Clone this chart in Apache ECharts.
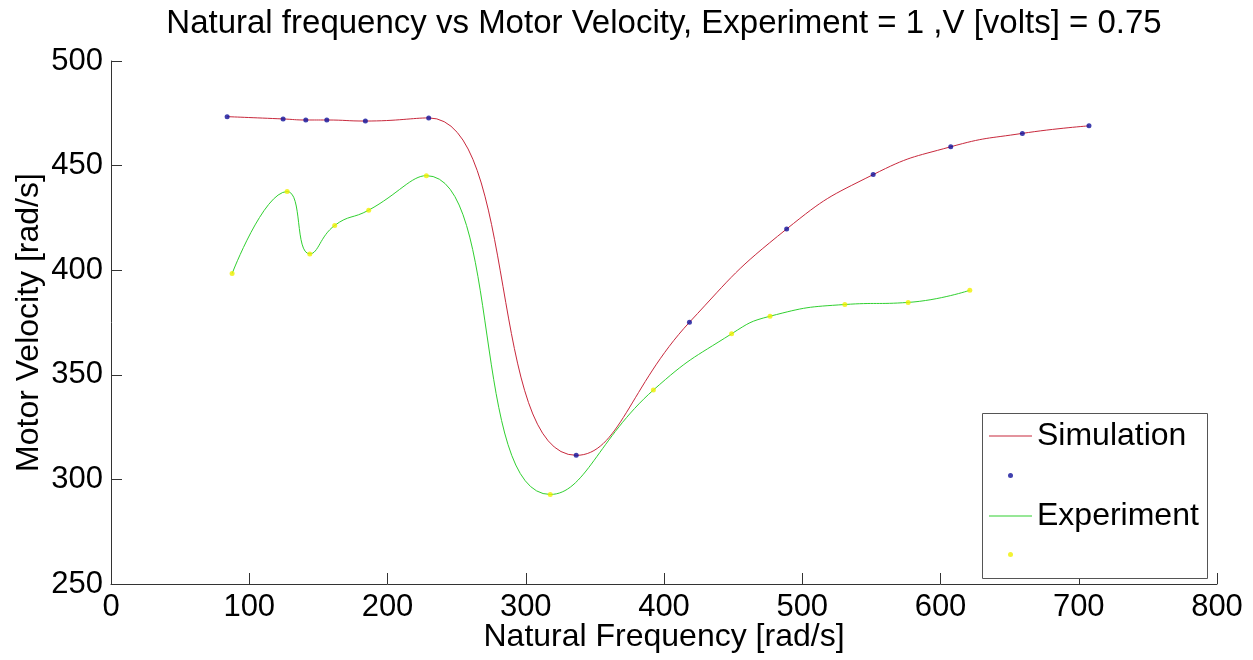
<!DOCTYPE html>
<html>
<head>
<meta charset="utf-8">
<script src="https://cdn.jsdelivr.net/npm/echarts@6/dist/echarts.min.js"></script>
<style>html,body{margin:0;padding:0;background:#fff}#c{width:1253px;height:660px}</style>
</head>
<body>
<div id="c"></div>
<script>
const titleText = 'Natural frequency vs Motor Velocity, Experiment = 1 ,V [volts] = 0.75';
const xName = 'Natural Frequency [rad/s]';
const yName = 'Motor Velocity [rad/s]';

const simFreq = [84.0, 124.5, 140.9, 156.1, 184.0, 229.8, 336.5, 418.4, 488.7, 551.3, 607.4, 659.2, 707.4];
const simVel  = [473.4, 472.3, 471.8, 471.8, 471.3, 472.8, 311.5, 375.1, 419.7, 445.7, 459.0, 465.4, 469.0];

const expFreq = [87.6, 127.4, 143.8, 161.8, 186.4, 228.1, 317.7, 392.3, 448.9, 476.7, 530.8, 576.6, 621.2];
const expVel  = [398.4, 437.6, 407.8, 421.4, 428.7, 445.2, 292.8, 342.7, 369.6, 378.0, 383.6, 384.6, 390.4];

const seriesNames = ['Simulation', 'sim_pts', 'Experiment', 'exp_pts'];

const simData = simFreq.map((x, i) => [x, simVel[i]]);
const expData = expFreq.map((x, i) => [x, expVel[i]]);

const FONT = "'Liberation Sans', Arial, sans-serif";
const chart = echarts.init(document.getElementById('c'), null, {renderer: 'canvas'});
chart.setOption({
  animation: false,
  backgroundColor: '#fff',
  title: {
    text: titleText,
    left: 664, top: 7, textAlign: 'center', padding: 0,
    textStyle: {fontFamily: FONT, fontSize: 33, fontWeight: 'normal', color: '#000'}
  },
  grid: {left: 111, right: 36, top: 61, bottom: 76, containLabel: false, outerBoundsMode: 'none'},
  xAxis: {
    type: 'value', min: 0, max: 800, interval: 100,
    name: xName, nameLocation: 'middle', nameGap: 37, nameMoveOverlap: false,
    nameTextStyle: {fontFamily: FONT, fontSize: 32, color: '#000'},
    axisLine: {show: true, onZero: false, lineStyle: {color: '#333', width: 1}},
    axisTick: {show: true, inside: true, length: 11, lineStyle: {color: '#333'}},
    axisLabel: {fontFamily: FONT, fontSize: 31, color: '#000', margin: 8},
    splitLine: {show: false}
  },
  yAxis: {
    type: 'value', min: 250, max: 500, interval: 50,
    name: yName, nameLocation: 'middle', nameGap: 66, nameMoveOverlap: false,
    nameTextStyle: {fontFamily: FONT, fontSize: 32, color: '#000'},
    axisLine: {show: true, onZero: false, lineStyle: {color: '#333', width: 1}},
    axisTick: {show: true, inside: true, length: 11, lineStyle: {color: '#333'}},
    axisLabel: {fontFamily: FONT, fontSize: 31, color: '#000', margin: 8},
    splitLine: {show: false}
  },
  graphic: [{
    type: 'rect', left: 982, top: 413, z: 5,
    shape: {width: 225, height: 165},
    style: {fill: '#fff', stroke: '#555', lineWidth: 1}
  }],
  legend: [{
    data: ['Simulation', 'Experiment'], orient: 'vertical',
    left: 989, top: 420, padding: 0, itemGap: 48, z: 10,
    itemWidth: 43, itemHeight: 1, icon: 'rect',
    textStyle: {fontFamily: FONT, fontSize: 32, color: '#000', lineHeight: 32},
    selectedMode: false
  }, {
    data: ['sim_pts', 'exp_pts'], orient: 'vertical',
    left: 1008, top: 473, padding: 0, itemGap: 74, z: 10,
    itemWidth: 5, itemHeight: 5,
    formatter: () => '',
    textStyle: {fontSize: 1, lineHeight: 1},
    icon: 'circle', selectedMode: false
  }],
  series: [{
    name: seriesNames[0], type: 'line', data: simData, smooth: 0.5, symbol: 'none',
    showSymbol: false, lineStyle: {color: '#c8283c', width: 1}, itemStyle: {color: '#c8283c'}, z: 2
  }, {
    name: seriesNames[1], type: 'scatter', data: simData, symbol: 'circle', symbolSize: 5,
    itemStyle: {color: '#10109a'}, z: 4
  }, {
    name: seriesNames[2], type: 'line', data: expData, smooth: 0.5, symbol: 'none',
    showSymbol: false, lineStyle: {color: '#30d030', width: 1}, itemStyle: {color: '#30d030'}, z: 2
  }, {
    name: seriesNames[3], type: 'scatter', data: expData, symbol: 'circle', symbolSize: 5,
    itemStyle: {color: '#f0f000'}, z: 4
  }]
});
</script>
</body>
</html>
